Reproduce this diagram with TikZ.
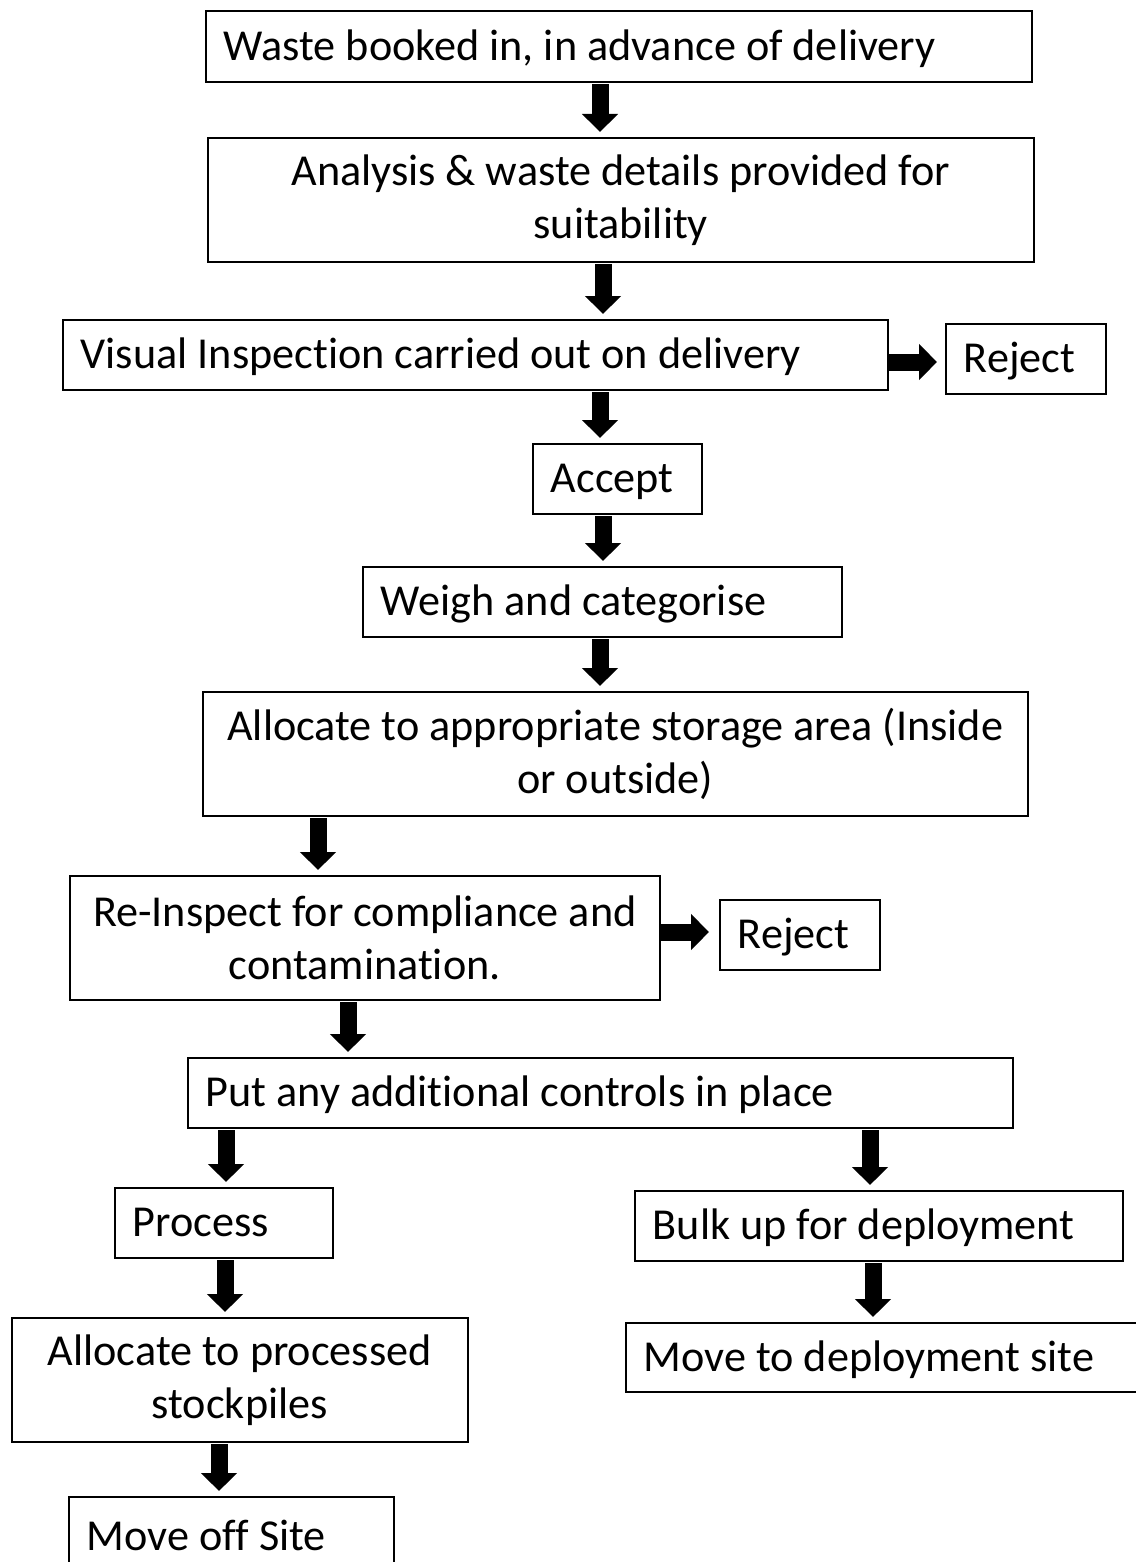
\documentclass[tikz,border=0pt]{standalone}
\usepackage{fontspec}
\setmainfont{Carlito}[RawFeature=-liga]
\usetikzlibrary{arrows.meta}
\newcommand{\twolines}[4][2.5pt]{\raisebox{-#1}{\parbox{#2}{\centering #3\\#4}}}
\begin{document}
\begin{tikzpicture}[x=1pt,y=-1pt,
  box/.style={draw, line width=1.6pt, anchor=north west, inner xsep=18pt, inner ysep=0pt,
    font=\fontsize{44.2}{53}\selectfont},
  lbox/.style={box, align=flush left, text height=31pt, text depth=3pt},
  cbox/.style={box, inner xsep=0pt},
  fat/.style={line width=17pt, -{Triangle[length=18pt,width=35pt]}, shorten <=1.5pt, shorten >=5pt}]
\useasboundingbox (0,0) rectangle (1135,1562);
\node[lbox, minimum height=71pt, text width=790pt] (n1) at (205,10) {Waste booked in, in advance of delivery};
\node[cbox, minimum height=124pt, minimum width=826pt] (n2) at (207,137) {\twolines{800pt}{Analysis \& waste details provided for}{suitability}};
\node[lbox, minimum height=70pt, text width=789pt] (n3) at (62,319) {Visual Inspection carried out on delivery};
\node[lbox, minimum height=70pt, text width=124pt] (n4) at (945,323) {Reject};
\node[lbox, minimum height=70pt, text width=133pt] (n5) at (532,443) {Accept};
\node[lbox, minimum height=70pt, text width=443pt] (n6) at (362,566) {Weigh and categorise};
\node[cbox, minimum height=124pt, minimum width=825pt] (n7) at (202,691) {\twolines[2pt]{800pt}{Allocate to appropriate storage area (Inside}{or outside)}};
\node[cbox, minimum height=124pt, minimum width=590pt] (n8) at (69,875) {\twolines[0pt]{570pt}{Re-Inspect for compliance and}{contamination.}};
\node[lbox, minimum height=70pt, text width=124pt] (n9) at (719,899) {Reject};
\node[lbox, minimum height=70pt, text width=789pt] (n10) at (187,1057) {Put any additional controls in place};
\node[lbox, minimum height=70pt, text width=182pt] (n11) at (114,1187) {Process};
\node[lbox, minimum height=70pt, text width=452pt] (n12) at (634,1190) {Bulk up for deployment};
\node[cbox, minimum height=124pt, minimum width=456pt] (n13) at (11,1317) {\twolines{440pt}{Allocate to processed}{stockpiles}};
\node[lbox, minimum height=69pt, text width=484pt] (n14) at (625,1322) {Move to deployment site};
\node[lbox, minimum height=80pt, text width=289pt] (n15) at (68,1496) {Move off Site};
\draw[fat] (n1.south -| 600,0) -- (n2.north -| 600,0);
\draw[fat] (n2.south -| 603,0) -- (n3.north -| 603,0);
\draw[fat] (n3.south -| 600,0) -- (n5.north -| 600,0);
\draw[fat] (n5.south -| 603,0) -- (n6.north -| 603,0);
\draw[fat] (n6.south -| 600,0) -- (n7.north -| 600,0);
\draw[fat] (n7.south -| 318,0) -- (n8.north -| 318,0);
\draw[fat] (n8.south -| 348,0) -- (n10.north -| 348,0);
\draw[fat] (n10.south -| 226,0) -- (n11.north -| 226,0);
\draw[fat] (n10.south -| 870,0) -- (n12.north -| 870,0);
\draw[fat] (n11.south -| 225,0) -- (n13.north -| 225,0);
\draw[fat] (n12.south -| 873,0) -- (n14.north -| 873,0);
\draw[fat] (n13.south -| 219,0) -- (n15.north -| 219,0);
\draw[fat, shorten <=0pt, shorten >=8pt] (n3.east |- 0,362) -- (n4.west |- 0,362);
\draw[fat, shorten <=0pt, shorten >=10pt] (n8.east |- 0,932) -- (n9.west |- 0,932);
\end{tikzpicture}
\end{document}
